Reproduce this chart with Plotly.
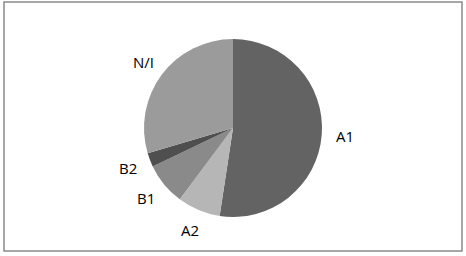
import math
import plotly.graph_objects as go

labels = ["A1", "A2", "B1", "B2", "N/I"]
values = [52.4, 7.8, 7.7, 2.5, 29.6]
colors = ["#636363", "#b6b6b6", "#8a8a8a", "#4f4f4f", "#9b9b9b"]

W, H = 466, 256
cx, cy, R = 233, 128, 89

fig = go.Figure(go.Pie(
    labels=labels, values=values, sort=False, direction="clockwise", rotation=0,
    marker=dict(colors=colors, line=dict(width=0)),
    textinfo="none", hoverinfo="label+percent",
    domain=dict(x=[(cx - R) / W, (cx + R) / W], y=[1 - (cy + R) / H, 1 - (cy - R) / H]),
    showlegend=False,
))

# labels placed outside along each slice's mid-angle
total = sum(values)
cum = 0
annotations = []
for lab, v in zip(labels, values):
    mid = (cum + v / 2) / total * 2 * math.pi
    cum += v
    lx = cx + 1.26 * R * math.sin(mid)
    ly = cy - 1.24 * R * math.cos(mid)
    annotations.append(dict(
        x=lx / W, y=1 - ly / H, xref="paper", yref="paper", text=lab, showarrow=False,
        font=dict(family="Open Sans", size=15, color="#000000"),
        xanchor="center", yanchor="middle"))

fig.update_layout(
    width=W, height=H, margin=dict(l=0, r=0, t=0, b=0),
    paper_bgcolor="white", plot_bgcolor="white",
    annotations=annotations,
    shapes=[dict(type="rect", xref="paper", yref="paper",
                 x0=4 / W, x1=462 / W, y0=1 - 251 / H, y1=1 - 2 / H,
                 line=dict(color="#8a8a8a", width=1.5), fillcolor="rgba(0,0,0,0)")],
)

fig.write_html("out.html", config={"displayModeBar": False},
               post_script="document.body.style.margin='0';document.body.style.overflow='hidden';")
